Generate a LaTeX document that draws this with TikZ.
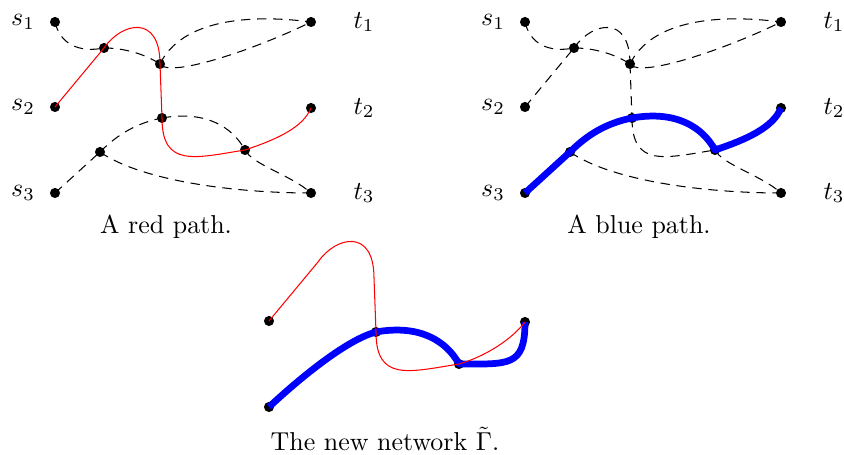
\documentclass[tikz,border=0pt]{standalone}
\usepackage{amsmath}
\usepackage{tikz}

% the same eleven vertices in every panel
\newcommand{\placevertices}{%
  \coordinate (s1) at (55,22);
  \coordinate (s2) at (55,107);
  \coordinate (s3) at (55,193);
  \coordinate (t1) at (311,22);
  \coordinate (t2) at (311,108);
  \coordinate (t3) at (311,193);
  \coordinate (a) at (104,48);
  \coordinate (b) at (160,64);
  \coordinate (c) at (162,118);
  \coordinate (d) at (100,152);
  \coordinate (e) at (245,150);
}
\newcommand{\placelabels}{%
  \foreach \i in {1,2,3} {
    \node[left=4.2pt] (ls\i) at (s\i) {$s_\i$};
    \node[right=12.9pt] (lt\i) at (t\i) {$t_\i$};
  }
}

\begin{document}
\begin{tikzpicture}[x=0.386pt, y=-0.386pt,
    vdot/.style={fill=black},
    edge/.style={dash pattern=on 3.6pt off 2.6pt},
    redpath/.style={red},
    bluepath/.style={blue, line width=2.6pt, line join=round}]
  \useasboundingbox (0,0) rectangle (844,455);

  % left: a red path
  \begin{scope}[name prefix=l-]
    \placevertices
    \foreach \v in {s1,s2,s3,t1,t2,t3,a,b,c,d,e}
      \fill[vdot] (\v) circle (1.95pt);
    \placelabels
    \draw[edge] (s1) .. controls +(5,22) and +(-25,5) .. (a);
    \draw[edge] (a) .. controls +(20,0) and +(-15,-10) .. (b);
    \draw[edge] (b) .. controls +(22,-45) and +(-60,-8) .. (t1);
    \draw[edge] (b) .. controls +(10,15) and +(-50,25) .. (t1);
    \draw[edge] (s3) -- (d);
    \draw[edge] (d) .. controls +(18,-18) and +(-25,5) .. (c);
    \draw[edge] (c) .. controls +(45,-8) and +(-12,-22) .. (e);
    \draw[edge] (e) .. controls +(8,15) and +(-20,-18) .. (t3);
    \draw[edge] (d) .. controls +(40,28) and +(-80,0) .. (t3);
    \draw[redpath] (s2) -- (a) .. controls +(18,-26) and +(0,-50) .. (b) -- (c)
      .. controls +(0,50) and +(-50,8) .. (e)
      .. controls +(30,-10) and +(-8,20) .. (t2);
    \node (cap) at (166,227) {A red path.};
  \end{scope}

  % right: a blue path
  \begin{scope}[shift={(470,0)}, name prefix=r-]
    \placevertices
    \foreach \v in {s1,s2,s3,t1,t2,t3,a,b,c,d,e}
      \fill[vdot] (\v) circle (1.95pt);
    \placelabels
    \draw[edge] (s1) .. controls +(5,22) and +(-25,5) .. (a);
    \draw[edge] (s2) -- (a);
    \draw[edge] (a) .. controls +(20,0) and +(-15,-10) .. (b);
    \draw[edge] (a) .. controls +(18,-26) and +(0,-50) .. (b);
    \draw[edge] (b) .. controls +(22,-45) and +(-60,-8) .. (t1);
    \draw[edge] (b) .. controls +(10,15) and +(-50,25) .. (t1);
    \draw[edge] (b) -- (c);
    \draw[edge] (c) .. controls +(0,50) and +(-50,8) .. (e);
    \draw[edge] (e) .. controls +(8,15) and +(-20,-18) .. (t3);
    \draw[edge] (d) .. controls +(40,28) and +(-80,0) .. (t3);
    \draw[bluepath] (s3) -- (d) .. controls +(18,-18) and +(-25,5) .. (c)
      .. controls +(45,-8) and +(-12,-22) .. (e)
      .. controls +(30,-10) and +(-8,20) .. (t2);
    \node (cap) at (169,227) {A blue path.};
  \end{scope}

  % bottom: both paths together
  \begin{scope}[shift={(214,214)}, name prefix=n-]
    \placevertices
    \foreach \v in {s2,s3,t2,c,e}
      \fill[vdot] (\v) circle (1.95pt);
    \draw[bluepath] (s3) .. controls +(30,-28) and +(-30,8) .. (c)
      .. controls +(45,-8) and +(-12,-22) .. (e)
      .. controls +(50,0) and +(0,45) .. (t2);
    \draw[redpath] (s2) -- (a) .. controls +(18,-26) and +(0,-50) .. (b) -- (c)
      .. controls +(0,50) and +(-50,8) .. (e)
      .. controls +(28,-8) and +(-12,16) .. (t2);
    \node (cap) at (171,225) {The new network $\tilde{\Gamma}$.};
  \end{scope}
\end{tikzpicture}
\end{document}
